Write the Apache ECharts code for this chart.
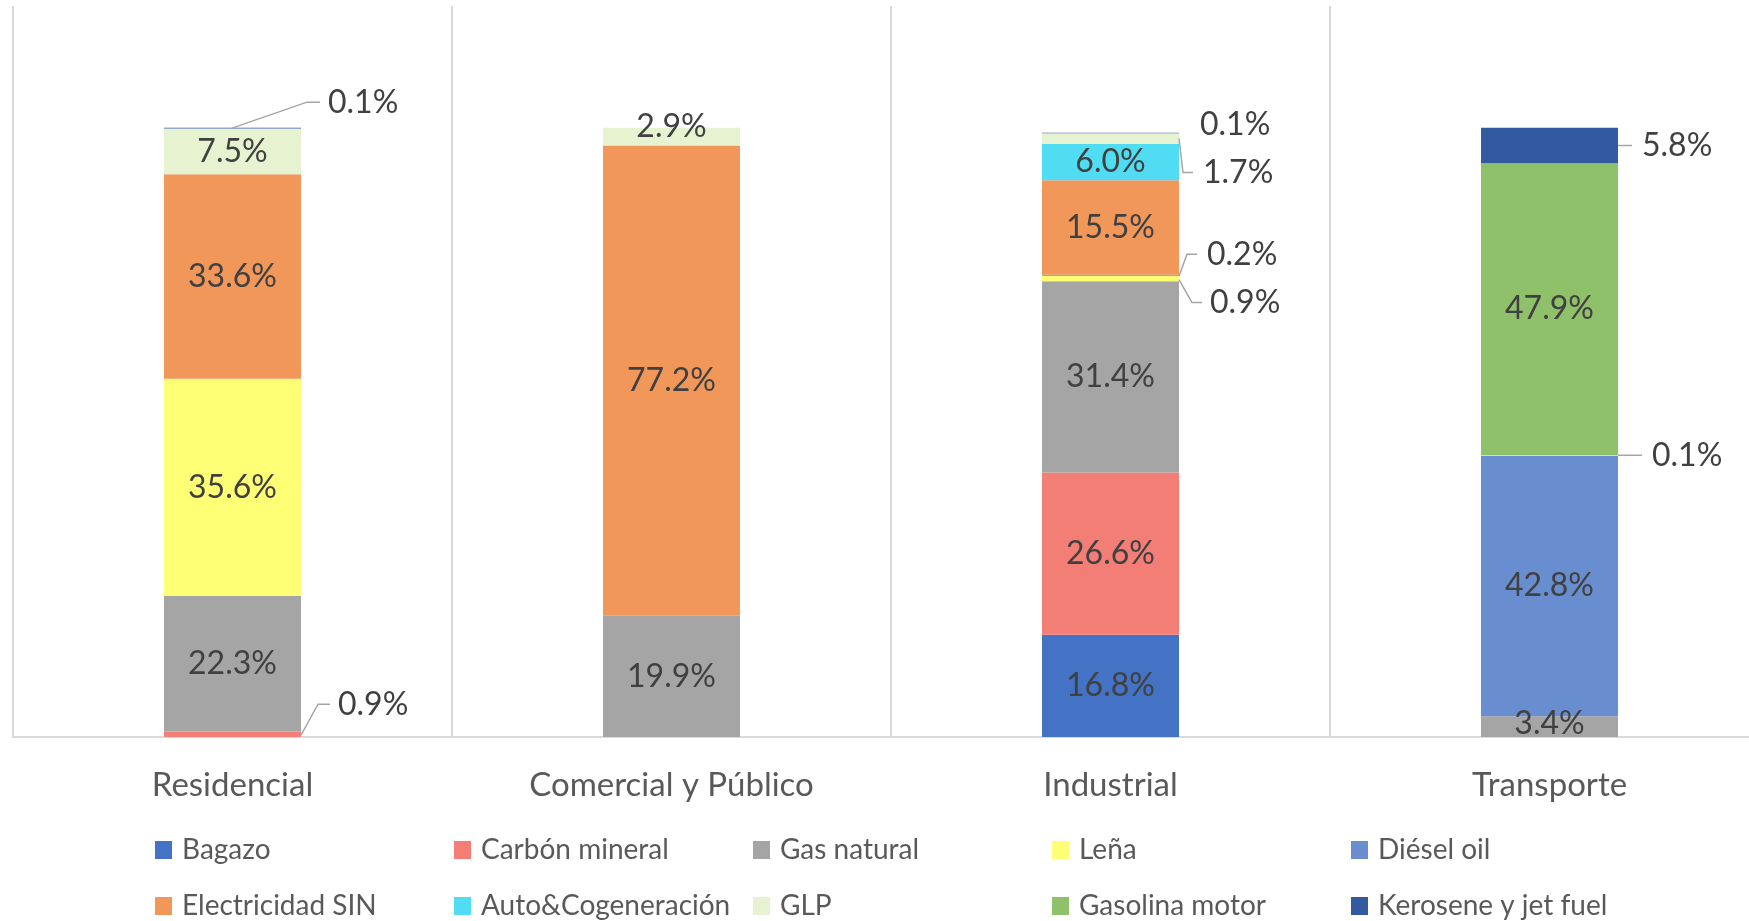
<!DOCTYPE html>
<html>
<head>
<meta charset="utf-8">
<script src="https://cdn.jsdelivr.net/npm/echarts@6/dist/echarts.min.js"></script>
<style>
  html, body { margin: 0; padding: 0; background: #ffffff; overflow: hidden; }
  /* the drawing is a little wider than the page: the last sector runs past its right edge */
  #chart { width: 1769px; height: 921px; }
</style>
</head>
<body>
<div id="chart"></div>
<script>
// Sectors (x axis categories)
const categories = ['Residencial', 'Comercial y Público', 'Industrial', 'Transporte'];

// Energy sources, in stacking order (bottom to top)
const sources = ['Bagazo', 'Carbón mineral', 'Gas natural', 'Leña', 'Diésel oil',
  'Electricidad SIN', 'Auto&Cogeneración', 'GLP', 'Gasolina motor', 'Kerosene y jet fuel'];

// Share of each source per sector (%), null where absent
const bagazo      = [null, null, 16.8, null];
const carbon      = [0.9,  null, 26.6, null];
const gasNatural  = [22.3, 19.9, 31.4, 3.4];
const lena        = [35.6, null, 0.9,  null];
const dieselOil   = [null, null, 0.2,  42.8];
const electricidad= [33.6, 77.2, 15.5, null];
const autoCogen   = [null, null, 6.0,  null];
const glp         = [7.5,  2.9,  1.7,  0.1];
const gasolina    = [null, null, null, 47.9];
const kerosene    = [0.1,  null, 0.1,  5.8];

const seriesValues = [bagazo, carbon, gasNatural, lena, dieselOil,
  electricidad, autoCogen, glp, gasolina, kerosene];

// Axis range (%)
const yMin = 0;
const yMax = 120;

// Styling
const colors = ['#4472C4', '#F37E76', '#A5A5A5', '#FFFF75', '#698ED0',
  '#F1975A', '#50DCF3', '#E7F3D0', '#8FC16A', '#335AA1'];
const FONT = 'Lato, "Noto Sans", sans-serif';
const BAR_W = 137;

// Small segments labelled outside the bar: label offset from the bar's right edge
// at the segment middle, and the leader line points relative to the same anchor.
const callouts = {
  'Kerosene y jet fuel|0': { label: [27, -25], line: [[-69, 0], [6, -26], [19, -26]] },
  'Carbón mineral|0':      { label: [37, -30], line: [[0, 1], [17, -30], [29, -30]] },
  'Kerosene y jet fuel|2': { label: [21, -8],  line: null },
  'GLP|2':                 { label: [24, 34],  line: [[0, 0], [4, 34], [14, 34]] },
  'Diésel oil|2':          { label: [28, -21], line: [[0, 1], [8, -21], [18, -21]] },
  'Leña|2':                { label: [31, 24],  line: [[0, 1], [13, 24], [23, 24]] },
  'Kerosene y jet fuel|3': { label: [24, 0],   line: [[0, 0], [14, 0]] },
  'GLP|3':                 { label: [34, 0],   line: [[0, 0], [24, 0]] }
};
// In-bar labels nudged from the segment centre
const insideOffsets = {
  'GLP|1': [0, -10],
  'Gas natural|3': [0, -3]
};

const fmt = v => Number(v).toFixed(1) + '%';

const series = sources.map((name, si) => ({
  name: name,
  type: 'bar',
  stack: 'total',
  barWidth: BAR_W,
  itemStyle: { color: colors[si] },
  label: {
    show: true,
    position: 'inside',
    formatter: p => fmt(p.value),
    color: '#404040',
    fontFamily: FONT,
    fontSize: 32
  },
  emphasis: { disabled: true },
  data: seriesValues[si].map((v, ci) => {
    if (v === null) return null;
    const key = name + '|' + ci;
    if (callouts[key]) {
      return {
        value: v,
        label: {
          position: 'right',
          distance: 0,
          offset: callouts[key].label,
          align: 'left',
          verticalAlign: 'middle'
        }
      };
    }
    if (insideOffsets[key]) {
      return { value: v, label: { offset: insideOffsets[key] } };
    }
    return v;
  })
}));

// One legend block per source, laid out in a 5 x 2 table
const legends = sources.map((name, i) => ({
  data: [name],
  left: 150 + (i % 5) * 299,
  top: 831 + Math.floor(i / 5) * 56,
  itemWidth: 17,
  itemHeight: 18,
  icon: 'rect',
  selectedMode: false,
  textStyle: {
    color: '#595959',
    fontFamily: FONT,
    fontSize: 28,
    padding: [0, 0, 0, 5]
  }
}));

const chart = echarts.init(document.getElementById('chart'), null, { renderer: 'canvas' });

chart.setOption({
  animation: false,
  backgroundColor: '#ffffff',
  grid: { left: 13, top: 6, right: 0, height: 731, containLabel: false },
  legend: legends,
  xAxis: {
    type: 'category',
    data: categories,
    axisLine: { show: true, lineStyle: { color: '#D9D9D9', width: 2 } },
    axisTick: { show: false },
    splitLine: { show: true, lineStyle: { color: '#D9D9D9', width: 2 } },
    axisLabel: {
      color: '#595959',
      fontFamily: FONT,
      fontSize: 33,
      margin: 32
    }
  },
  yAxis: {
    type: 'value',
    min: yMin,
    max: yMax,
    show: false
  },
  series: series
});

// Leader lines for the outside labels, placed through the chart's own scales
function drawLeaders() {
  const graphics = [];
  const cumulative = categories.map(() => 0);
  sources.forEach((name, si) => {
    seriesValues[si].forEach((v, ci) => {
      if (v === null) return;
      const base = cumulative[ci];
      cumulative[ci] += v;
      const c = callouts[name + '|' + ci];
      if (!c || !c.line) return;
      const mid = chart.convertToPixel({ gridIndex: 0 }, [ci, base + v / 2]);
      const ax = mid[0] + BAR_W / 2;
      const ay = mid[1];
      graphics.push({
        type: 'polyline',
        silent: true,
        z: 10,
        shape: { points: c.line.map(p => [ax + p[0], ay + p[1]]) },
        style: { stroke: '#A5A5A5', lineWidth: 1.5, fill: null }
      });
    });
  });
  chart.setOption({ graphic: graphics });
}
drawLeaders();
</script>
</body>
</html>
